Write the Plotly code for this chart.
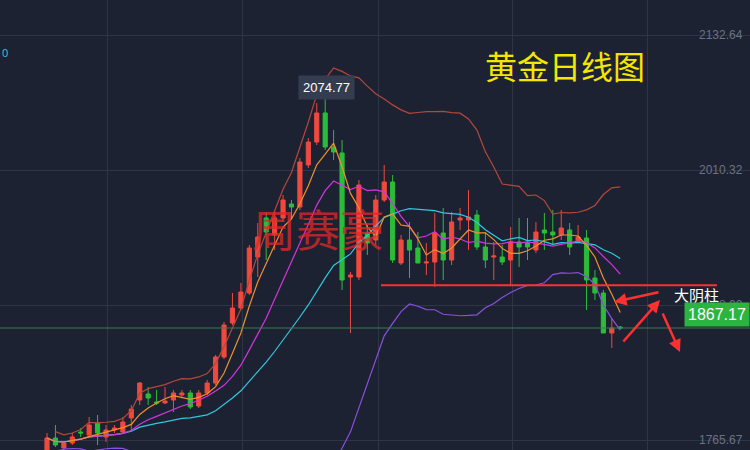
import plotly.graph_objects as go
import pandas as pd

def P(y):
    return round(2132.64 - (y - 35) * 0.906, 2)

raw = [
 ('r',438,450,433,452),('g',438,445,425,447),('r',443,448,441,451),('r',437,443,433,445),
 ('g',432,433,428,437),('r',425,435,417,437),('g',423,433,415,445),('r',430,437,425,442),
 ('r',428,430,425,433),('r',422,432,417,434),('r',409,418,405,430),('r',383,400,382,405),
 ('g',394,398,387,405),('g',402,403,390,405),('r',401,403,387,404),('r',393,400,390,412),
 ('r',393,395,390,398),('g',393,407,390,409),('r',393,406,390,408),('r',383,393,380,395),
 ('r',357,383,355,385),('r',325,357,322,359),('r',308,323,293,325),('r',292,308,283,310),
 ('r',248,293,245,295),('r',237,257,223,277),('g',218,232,212,260),('r',218,235,210,250),
 ('r',200,218,195,222),('g',204,207,200,218),('r',162,207,158,210),('r',142,165,138,168),
 ('r',113,142,103,145),('g',113,147,98,150),('g',147,152,130,160),('g',153,280,140,290),
 ('r',275,277,272,333),('r',185,277,180,280),('g',233,243,225,255),('r',200,240,195,245),
 ('r',182,200,165,202),('g',182,260,175,263),('r',240,263,235,265),('g',240,250,222,278),
 ('g',248,263,232,263),('r',262,263,243,275),('r',233,262,213,287),('g',233,260,208,280),
 ('r',222,260,212,265),('r',218,220,208,230),('r',217,220,190,250),('g',215,247,210,250),
 ('g',247,260,232,268),('r',256,257,242,280),('g',257,262,245,265),('r',242,260,227,285),
 ('g',242,247,218,267),('g',243,247,218,260),('r',232,250,222,253),('g',230,233,213,250),
 ('g',232,235,210,245),('r',228,235,210,240),('g',230,247,223,255),('r',237,242,225,242),
 ('g',238,280,230,310),('g',278,293,270,300),('g',293,333,290,333),('r',328,333,318,348),
 ('g',327,328,326,329),
]
idx = list(range(len(raw)))
opens  = [P(b) if c == 'r' else P(t) for c, t, b, wt, wb in raw]
closes = [P(t) if c == 'r' else P(b) for c, t, b, wt, wb in raw]
highs  = [P(wt) for c, t, b, wt, wb in raw]
lows   = [P(wb) for c, t, b, wt, wb in raw]
closes[-1] = 1867.17

tick_vals = [2132.64, 2010.32, 1888.00, 1765.67]
support_level = 1906.0

s = pd.Series(closes)
ma5 = s.rolling(5, min_periods=1).mean()
ma10 = s.rolling(10, min_periods=1).mean()
ma20 = s.rolling(20, min_periods=1).mean()
sd20 = s.rolling(20, min_periods=2).std()
up = ma20 + 2 * sd20
lo = ma20 - 2 * sd20

SP = 8.43
X0PX = 47

fig = go.Figure()
for ys, col in [(up, '#b5473a'), (lo, '#8a4fe0'), (ma20, '#2fc8e0'), (ma10, '#d633e0'), (ma5, '#f0902a')]:
    fig.add_trace(go.Scatter(x=idx, y=ys, mode='lines', line=dict(color=col, width=1.2), hoverinfo='skip'))
fig.add_trace(go.Candlestick(x=idx, open=opens, high=highs, low=lows, close=closes,
    increasing=dict(line=dict(color='#f0493e', width=1), fillcolor='#f0493e'),
    decreasing=dict(line=dict(color='#2bbd3a', width=1), fillcolor='#2bbd3a'),
    whiskerwidth=0))

fig.add_shape(type='line', xref='paper', yref='y', x0=381/750, x1=717/750, y0=support_level, y1=support_level,
              line=dict(color='#ff3030', width=2))
fig.add_shape(type='line', xref='paper', yref='y', x0=0, x1=1, y0=1867.17, y1=1867.17,
              line=dict(color='#3a7a50', width=1))
for (ax, ay, x, y) in [(660, 292, 614, 302), (622, 343, 660, 300), (662, 312, 680, 352)]:
    fig.add_annotation(xref='paper', yref='paper', x=x/750, y=1-y/450, ax=ax-x, ay=ay-y,
                       showarrow=True, arrowhead=2, arrowsize=1,
                       arrowwidth=2.5, arrowcolor='#ff3030', text='')
for v in tick_vals:
    fig.add_annotation(xref='paper', yref='y', x=745/750, y=v, text=f'{v:.2f}', showarrow=False,
                       xanchor='right', font=dict(color='#6b7282', size=12, family='Arial'))
fig.add_annotation(xref='paper', yref='paper', x=672/750, y=1-294/450, text='大阴柱', showarrow=False,
                   xanchor='left', font=dict(color='white', size=15, family='Noto Sans CJK SC'))
fig.add_annotation(xref='paper', yref='paper', x=483/750, y=1-40/450, xanchor='left', text='黄金日线图',
                   showarrow=False, font=dict(color='#f5e600', size=32, family='Noto Sans CJK SC'))
fig.add_annotation(xref='paper', yref='paper', x=250/750, y=1-228/450, xanchor='left', text='周赛豪',
                   showarrow=False, font=dict(color='rgba(225,40,40,0.75)', size=44, family='Noto Sans CJK SC'))
fig.add_annotation(xref='paper', yref='paper', x=326/750, y=1-75/450, text='2074.77', showarrow=False,
                   bgcolor='#343d4f', borderpad=4, font=dict(color='white', size=13, family='Arial'))
fig.add_annotation(xref='paper', yref='paper', x=750/750, y=1-327/450, xanchor='right', text='1867.17',
                   showarrow=False, bgcolor='#2bb540', borderpad=3,
                   font=dict(color='white', size=16, family='Arial'))
fig.add_annotation(xref='paper', yref='paper', x=0, y=1-43/450, text='0', showarrow=False, xanchor='left',
                   font=dict(color='#2fc8e0', size=11))

x0 = -X0PX / SP
fig.update_layout(width=750, height=450, margin=dict(l=0, r=0, t=0, b=0), showlegend=False,
                  paper_bgcolor='#1d2233', plot_bgcolor='#1d2233')
fig.update_xaxes(range=[x0, x0 + 750 / SP], showticklabels=False, rangeslider_visible=False,
                 tickvals=[(p - X0PX) / SP for p in [107, 242, 378, 512, 647]],
                 gridcolor='#2e3547', zeroline=False)
fig.update_yaxes(range=[P(450), P(0)], tickvals=tick_vals, showticklabels=False,
                 gridcolor='#2e3547', zeroline=False)
fig.write_html('out.html', config={'displayModeBar': False})
with open('out.html', encoding='utf-8') as f:
    html = f.read()
html = html.replace('<body>', '<body style="margin:0;background:#1d2233">', 1)
with open('out.html', 'w', encoding='utf-8') as f:
    f.write(html)
